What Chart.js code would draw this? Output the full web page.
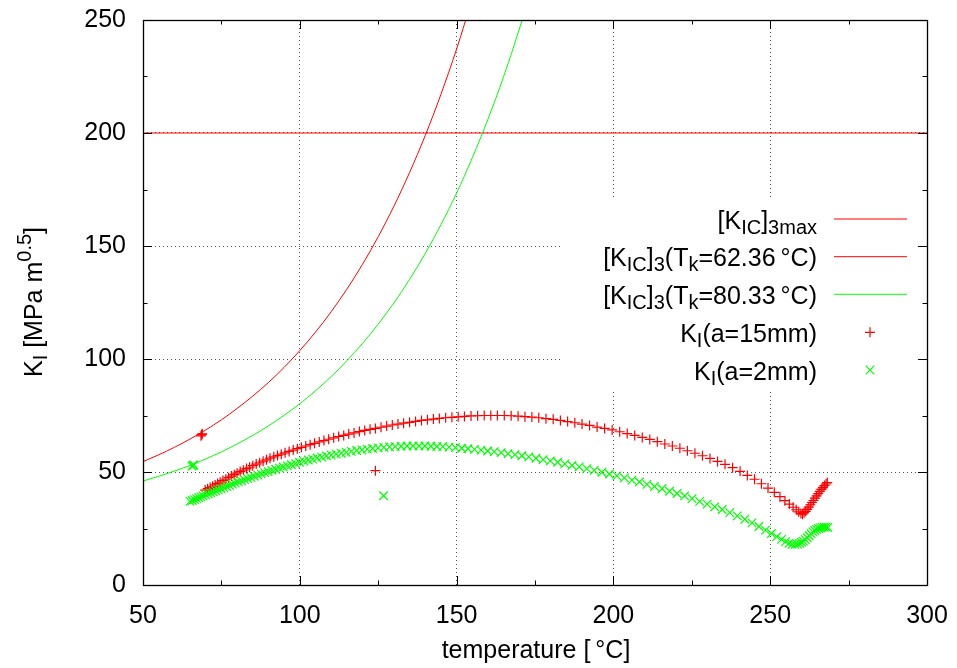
<!DOCTYPE html>
<html>
<head>
<meta charset="utf-8">
<script src="https://cdn.jsdelivr.net/npm/chart.js@4.4.1/dist/chart.umd.min.js"></script>
<style>
  html, body { margin: 0; padding: 0; background: #fff; }
  #wrap { width: 957px; height: 668px; }
</style>
</head>
<body>
<div id="wrap"><canvas id="chart" width="957" height="668"></canvas></div>
<script>
// --- K_I vs temperature, gnuplot-style ---

const FONT = '"Liberation Sans", Arial, Helvetica, sans-serif';
const FS = 25;

// axes
const xRange = [50, 300];
const yRange = [0, 250];
const majorStep = 50;
const minorStep = 25;

// [K_IC]_3max level
const kicMaxTemp = [50, 300];
const kicMaxVal = [200, 200];

// [K_IC]_3 reference curves
const kic62Temp = [50, 55, 60, 65, 70, 75, 80, 85, 90, 95, 100, 105, 110, 115, 120, 125, 130, 135, 140, 145, 150, 155];
const kic62Val = [54.6, 57.6, 60.9, 64.6, 68.6, 73.1, 78.1, 83.6, 89.6, 96.3, 103.7, 111.9, 120.9, 130.9, 141.9, 154.1, 167.6, 182.5, 198.9, 217.1, 237.2, 259.4];
const kic80Temp = [50, 55, 60, 65, 70, 75, 80, 85, 90, 95, 100, 105, 110, 115, 120, 125, 130, 135, 140, 145, 150, 155, 160, 165, 170, 175];
const kic80Val = [46.0, 48.1, 50.4, 52.9, 55.8, 58.9, 62.4, 66.2, 70.4, 75.1, 80.2, 85.9, 92.2, 99.2, 106.9, 115.4, 124.8, 135.2, 146.7, 159.4, 173.4, 189.0, 206.1, 225.0, 246.0, 269.1];

// K_I(a=15mm)
const a15Temp = [69.8,70.6,71.4,72.2,73.0,73.8,74.6,75.5,76.4,77.3,
  78.2,79.1,80.0,81.0,82.0,83.0,84.0,85.0,86.1,87.2,
  88.3,89.4,90.5,91.7,92.9,94.1,95.3,96.6,97.9,99.2,
  100.5,101.9,103.3,104.7,106.2,107.7,109.2,110.8,112.4,114.0,
  115.6,117.3,119.0,120.7,122.4,124.1,125.9,127.7,129.5,131.3,
  133.1,135.0,136.9,138.8,140.7,142.6,144.5,146.5,148.5,150.5,
  152.5,154.6,156.7,158.8,160.9,163.0,165.2,167.4,169.6,171.8,
  174.0,176.2,178.5,180.8,183.1,185.4,187.7,190.0,192.4,194.8,
  197.2,199.6,202.0,204.4,206.8,209.2,211.6,214.0,216.4,218.8,
  221.2,223.6,226.0,228.4,230.8,233.2,235.6,238.0,240.4,242.7,
  245.0,247.2,249.3,251.3,253.1,254.7,256.1,257.3,258.3,259.1,
  259.8,260.3,260.8,261.3,261.8,262.3,262.8,263.3,263.8,264.3,
  264.8,265.3,265.8,266.3,266.8,267.3,267.8,268.2,
  68.5,68.7,68.9,124.1];
const a15K = [42.0,42.6,43.1,43.7,44.3,44.9,45.5,46.2,46.8,47.5,
  48.2,48.8,49.5,50.2,50.8,51.5,52.1,52.8,53.5,54.1,
  54.8,55.4,56.1,56.7,57.3,57.9,58.5,59.1,59.7,60.3,
  60.9,61.5,62.1,62.7,63.3,63.9,64.5,65.1,65.7,66.2,
  66.8,67.3,67.9,68.4,68.9,69.3,69.8,70.3,70.8,71.2,
  71.6,72.0,72.4,72.8,73.1,73.4,73.7,74.0,74.2,74.4,
  74.6,74.8,74.9,75.0,75.0,75.0,75.0,74.9,74.7,74.5,
  74.3,74.0,73.6,73.3,72.8,72.3,71.8,71.2,70.6,69.9,
  69.3,68.6,67.8,67.0,66.2,65.3,64.4,63.4,62.4,61.5,
  60.5,59.4,58.3,57.2,56.0,54.7,53.4,51.9,50.3,48.5,
  46.8,44.8,42.9,41.0,39.1,37.3,35.8,34.4,33.3,32.4,
  31.6,31.3,32.0,32.6,33.5,34.5,35.5,36.5,37.4,38.4,
  39.4,40.4,41.4,42.3,43.1,44.0,44.7,45.3,
  66.0,66.5,66.9,50.6];

// K_I(a=2mm)
const a2Temp = [65.0,65.7,66.4,67.1,67.8,68.5,69.2,70.0,70.8,71.6,
  72.4,73.2,74.0,74.9,75.8,76.7,77.6,78.5,79.4,80.4,
  81.4,82.4,83.4,84.4,85.5,86.6,87.7,88.8,89.9,91.1,
  92.3,93.5,94.7,96.0,97.3,98.6,99.9,101.3,102.7,104.1,
  105.5,107.0,108.5,110.0,111.6,113.2,114.8,116.4,118.1,119.8,
  121.5,123.2,125.0,126.8,128.6,130.4,132.3,134.2,136.1,138.0,
  139.9,141.8,143.7,145.6,147.6,149.6,151.6,153.6,155.7,157.8,
  159.9,162.0,164.2,166.4,168.6,170.8,173.0,175.3,177.6,179.9,
  182.2,184.5,186.8,189.1,191.5,193.9,196.3,198.7,201.1,203.5,
  205.9,208.3,210.7,213.1,215.5,217.9,220.3,222.7,225.1,227.5,
  229.9,232.3,234.7,237.1,239.5,241.9,244.2,246.4,248.5,250.4,
  252.1,253.6,254.9,256.0,257.0,257.9,258.7,259.4,260.0,260.6,
  261.2,261.8,262.4,263.0,263.6,264.2,264.8,265.4,266.0,266.6,
  267.2,267.8,268.4,
  65.6,65.9,66.2,126.7];
const a2K = [37.0,37.4,37.8,38.2,38.6,39.0,39.4,39.9,40.3,40.8,
  41.2,41.7,42.1,42.6,43.1,43.6,44.1,44.6,45.1,45.6,
  46.1,46.6,47.1,47.6,48.1,48.6,49.2,49.7,50.2,50.7,
  51.2,51.7,52.2,52.7,53.2,53.7,54.3,54.8,55.3,55.7,
  56.2,56.6,57.1,57.5,57.9,58.3,58.7,59.1,59.5,59.8,
  60.1,60.4,60.7,60.9,61.1,61.2,61.4,61.5,61.5,61.5,
  61.5,61.4,61.3,61.2,61.0,60.8,60.5,60.3,60.0,59.7,
  59.3,59.0,58.6,58.1,57.7,57.2,56.7,56.1,55.5,54.9,
  54.3,53.6,52.9,52.3,51.5,50.7,49.9,49.1,48.3,47.4,
  46.4,45.6,44.5,43.6,42.6,41.5,40.5,39.4,38.2,37.0,
  35.8,34.6,33.4,32.0,30.6,29.1,27.5,25.9,24.3,22.8,
  21.4,20.2,19.2,18.4,18.0,18.0,18.1,18.4,18.9,19.4,
  20.1,20.9,21.8,22.7,23.5,24.1,24.6,25.0,25.3,25.5,
  25.6,25.6,25.5,
  52.6,52.9,53.1,39.5];

// key entries: [text, 'n' | 'sub' | 'sup']
const keyLabels = [
  [['[K', 'n'], ['IC', 'sub'], [']', 'n'], ['3max', 'sub']],
  [['[K', 'n'], ['IC', 'sub'], [']', 'n'], ['3', 'sub'], ['(T', 'n'], ['k', 'sub'], ['=62.36\u2009°C)', 'n']],
  [['[K', 'n'], ['IC', 'sub'], [']', 'n'], ['3', 'sub'], ['(T', 'n'], ['k', 'sub'], ['=80.33\u2009°C)', 'n']],
  [['K', 'n'], ['I', 'sub'], ['(a=15mm)', 'n']],
  [['K', 'n'], ['I', 'sub'], ['(a=2mm)', 'n']]
];
const keyKinds = ['line', 'line', 'line', 'cross', 'crossRot'];
const keyColors = ['#ff0000', '#ff0000', '#00ff00', '#ff0000', '#00ff00'];
const xTitle = [['temperature [\u2009°C]', 'n']];
const yTitle = [['K', 'n'], ['I', 'sub'], [' [MPa m', 'n'], ['0.5', 'sup'], [']', 'n']];

const pts = (xs, ys) => xs.map((x, i) => ({ x, y: ys[i] }));

function drawRich(ctx, parts, x, y, size, align) {
  let w = 0;
  parts.forEach(([t, m]) => {
    ctx.font = `${m === 'n' ? size : size * 0.8}px ${FONT}`;
    w += ctx.measureText(t).width;
  });
  let cx = align === 'right' ? x - w : align === 'center' ? x - w / 2 : x;
  parts.forEach(([t, m]) => {
    ctx.font = `${m === 'n' ? size : size * 0.8}px ${FONT}`;
    const dy = m === 'sub' ? size * 0.2 : m === 'sup' ? -size * 0.45 : 0;
    ctx.fillText(t, cx, y + dy);
    cx += ctx.measureText(t).width;
  });
}

function drawMarker(ctx, kind, x, y) {
  ctx.beginPath();
  if (kind === 'cross') {
    ctx.moveTo(x - 5, y); ctx.lineTo(x + 5, y);
    ctx.moveTo(x, y - 5); ctx.lineTo(x, y + 5);
  } else {
    ctx.moveTo(x - 4.3, y - 4.3); ctx.lineTo(x + 4.3, y + 4.3);
    ctx.moveTo(x + 4.3, y - 4.3); ctx.lineTo(x - 4.3, y + 4.3);
  }
  ctx.stroke();
}

const gnuplotLook = {
  id: 'gnuplotLook',
  afterDatasetsDraw(chart) {
    const ctx = chart.ctx;
    ctx.save();
    // opaque key box hides the grid behind it
    ctx.fillStyle = '#fff';
    ctx.fillRect(562, 197, 356, 192);
    ctx.textBaseline = 'alphabetic';
    const rowY = [219, 256.7, 294.3, 332.3, 370];
    keyLabels.forEach((parts, i) => {
      const yc = rowY[i];
      ctx.fillStyle = '#000';
      drawRich(ctx, parts, 817, yc + 9.5, FS, 'right');
      ctx.strokeStyle = keyColors[i];
      ctx.lineWidth = keyKinds[i] === 'line' ? 1 : 1.2;
      if (keyKinds[i] === 'line') {
        ctx.beginPath();
        ctx.moveTo(834, yc); ctx.lineTo(907, yc);
        ctx.stroke();
      } else {
        drawMarker(ctx, keyKinds[i], 870, yc);
      }
    });
    ctx.restore();
  },
  afterDraw(chart) {
    const ctx = chart.ctx;
    const a = chart.chartArea;
    const xs = chart.scales.x, ys = chart.scales.y;
    ctx.save();
    ctx.strokeStyle = '#000';
    ctx.lineWidth = 1;
    // inward ticks on all four sides
    ctx.beginPath();
    for (let v = xRange[0]; v <= xRange[1]; v += minorStep) {
      const p = Math.round(xs.getPixelForValue(v)) + 0.5;
      const len = v % majorStep === 0 ? 9 : 4.5;
      ctx.moveTo(p, a.bottom); ctx.lineTo(p, a.bottom - len);
      ctx.moveTo(p, a.top); ctx.lineTo(p, a.top + len);
    }
    for (let v = yRange[0]; v <= yRange[1]; v += minorStep) {
      const p = Math.round(ys.getPixelForValue(v)) + 0.5;
      const len = v % majorStep === 0 ? 9 : 4.5;
      ctx.moveTo(a.left, p); ctx.lineTo(a.left + len, p);
      ctx.moveTo(a.right, p); ctx.lineTo(a.right - len, p);
    }
    ctx.stroke();
    // border
    ctx.lineWidth = 1.3;
    ctx.strokeRect(Math.round(a.left) + 0.5, Math.round(a.top) + 0.5,
      Math.round(a.right - a.left), Math.round(a.bottom - a.top));
    // axis titles
    ctx.fillStyle = '#000';
    ctx.textBaseline = 'alphabetic';
    drawRich(ctx, xTitle, 536, 658, FS, 'center');
    ctx.translate(42, 302);
    ctx.rotate(-Math.PI / 2);
    drawRich(ctx, yTitle, 0, 0, FS, 'center');
    ctx.restore();
  }
};

const gridStyle = { color: '#555', lineWidth: 1, drawTicks: false };
const borderStyle = { display: false, dash: [1, 3] };

new Chart(document.getElementById('chart'), {
  type: 'scatter',
  data: {
    datasets: [
      { label: 'K_I(a=2mm)', data: pts(a2Temp, a2K), showLine: false,
        pointStyle: 'crossRot', pointRadius: 6, pointHoverRadius: 6,
        borderColor: '#00ff00', backgroundColor: '#00ff00', pointBorderWidth: 1.2, order: 0 },
      { label: 'K_I(a=15mm)', data: pts(a15Temp, a15K), showLine: false,
        pointStyle: 'cross', pointRadius: 5, pointHoverRadius: 5,
        borderColor: '#ff0000', backgroundColor: '#ff0000', pointBorderWidth: 1.2, order: 1 },
      { label: '[K_IC]_3(Tk=80.33)', data: pts(kic80Temp, kic80Val), showLine: true,
        pointRadius: 0, borderColor: '#00ff00', borderWidth: 1,
        cubicInterpolationMode: 'monotone', order: 2 },
      { label: '[K_IC]_3(Tk=62.36)', data: pts(kic62Temp, kic62Val), showLine: true,
        pointRadius: 0, borderColor: '#ff0000', borderWidth: 1,
        cubicInterpolationMode: 'monotone', order: 3 },
      { label: '[K_IC]_3max', data: pts(kicMaxTemp, kicMaxVal), showLine: true,
        pointRadius: 0, borderColor: '#ff0000', borderWidth: 1, order: 4 }
    ]
  },
  options: {
    responsive: false,
    animation: false,
    devicePixelRatio: 1,
    layout: { padding: { top: 20, right: 30, left: 0, bottom: 0 } },
    plugins: { legend: { display: false }, tooltip: { enabled: false } },
    scales: {
      x: {
        type: 'linear', min: xRange[0], max: xRange[1],
        afterFit: s => { s.height = 83; s.paddingLeft = 0; s.paddingRight = 0; },
        border: borderStyle,
        grid: gridStyle,
        ticks: { stepSize: majorStep, color: '#000', padding: 16, maxRotation: 0,
          font: { family: FONT, size: FS } }
      },
      y: {
        type: 'linear', min: yRange[0], max: yRange[1],
        afterFit: s => { s.width = 143; s.paddingTop = 0; s.paddingBottom = 0; },
        border: borderStyle,
        grid: gridStyle,
        ticks: { stepSize: majorStep, color: '#000', padding: 17,
          font: { family: FONT, size: FS } }
      }
    }
  },
  plugins: [gnuplotLook]
});
</script>
</body>
</html>
